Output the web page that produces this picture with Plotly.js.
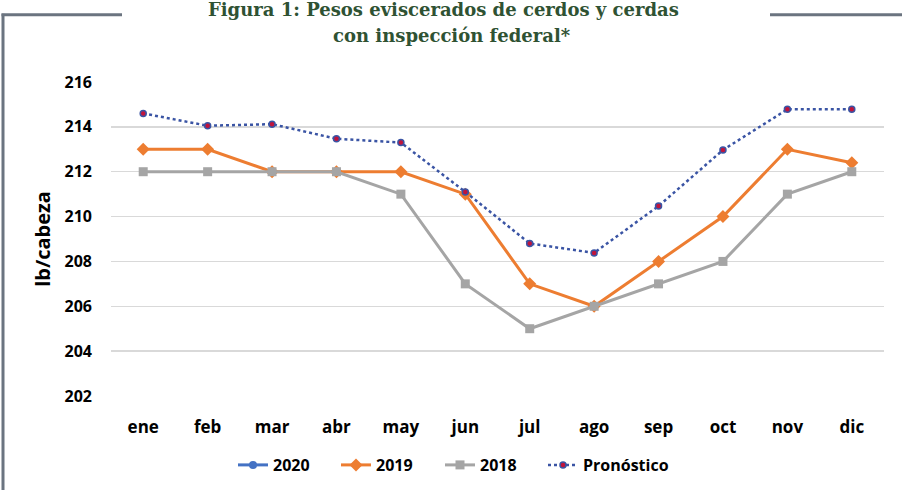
<!DOCTYPE html>
<html>
<head>
<meta charset="utf-8">
<script src="https://cdn.plot.ly/plotly-3.0.1.min.js"></script>
<style>
html,body{margin:0;padding:0;background:#fff;}
#chart{width:902px;height:490px;}
</style>
</head>
<body>
<div id="chart"></div>
<script>
const months = ['ene','feb','mar','abr','may','jun','jul','ago','sep','oct','nov','dic'];
const y2020 = [null,null,null,null,null,null,null,null,null,null,null,null];
const y2019 = [213,213,212,212,212,211,207,206,208,210,213,212.4];
const y2018 = [212,212,212,212,211,207,205,206,207,208,211,212];
const yPron = [214.6,214.05,214.12,213.47,213.3,211.1,208.8,208.38,210.47,212.97,214.78,214.78];
const yTicks = [202,204,206,208,210,212,214,216];

const FONT = '"Open Sans", "Liberation Sans", sans-serif';

const traces = [
  {x: months, y: y2020, name: '2020', type: 'scatter', mode: 'lines+markers', legend: 'legend',
   line: {color: '#4472C4', width: 3}, marker: {symbol: 'circle', size: 8, color: '#4472C4'}},
  {x: months, y: y2019, name: '2019', type: 'scatter', mode: 'lines+markers', legend: 'legend2',
   line: {color: '#ED7D31', width: 3}, marker: {symbol: 'diamond', size: 10, color: '#ED7D31'}},
  {x: months, y: y2018, name: '2018', type: 'scatter', mode: 'lines+markers', legend: 'legend3',
   line: {color: '#A5A5A5', width: 3}, marker: {symbol: 'square', size: 9, color: '#A5A5A5'}},
  {x: months, y: yPron, name: 'Pronóstico', type: 'scatter', mode: 'lines+markers', legend: 'legend4',
   line: {color: '#3A54A4', width: 2.5, dash: 'dot'},
   marker: {symbol: 'circle', size: 6, color: '#C0143C', line: {color: '#3A54A4', width: 1.5}}}
];

// plot area in px: left 111, right 884, top 81.5, bottom 396.5
const L = 111, R = 884, T = 81.5, B = 396.5;
const px2x = p => (p - L) / (R - L);
const px2y = p => (B - p) / (B - T);

const legendAt = px => ({orientation: 'h', xref: 'container', yref: 'container',
  x: px / 902, xanchor: 'left', y: 1 - 465 / 490, yanchor: 'middle', bgcolor: 'rgba(0,0,0,0)',
  font: {family: FONT, size: 16, color: '#000', weight: 'bold'}, itemwidth: 30});

const layout = {
  width: 902, height: 490,
  margin: {l: L, r: 902 - R, t: T, b: 490 - B, pad: 0, autoexpand: false},
  paper_bgcolor: '#ffffff', plot_bgcolor: '#ffffff',
  showlegend: true,
  legend: legendAt(233),
  legend2: legendAt(336),
  legend3: legendAt(440),
  legend4: legendAt(543),
  xaxis: {type: 'category', range: [-0.5, 11.5], showgrid: false, zeroline: false, showline: false, automargin: false,
          tickfont: {family: FONT, size: 17, color: '#000', weight: 'bold'},
          ticklabelstandoff: 19, ticks: ''},
  yaxis: {range: [202, 216], tickvals: yTicks, showgrid: true, gridcolor: '#D9D9D9', gridwidth: 1.5,
          zeroline: false, showline: false, ticks: '', automargin: false,
          tickfont: {family: FONT, size: 16, color: '#000', weight: 'bold'},
          ticklabelstandoff: 18,
          title: {text: 'lb/cabeza', standoff: 8, font: {family: FONT, size: 20, color: '#000', weight: 'bold'}}},
  annotations: [
    {text: 'Figura 1: Pesos eviscerados de cerdos y cerdas', xref: 'paper', yref: 'paper',
     x: px2x(443), y: px2y(9), xanchor: 'center', yanchor: 'middle', showarrow: false,
     font: {family: '"DejaVu Serif", serif', size: 18, color: '#2F5233', weight: 'bold'}},
    {text: 'con inspección federal*', xref: 'paper', yref: 'paper',
     x: px2x(452), y: px2y(35), xanchor: 'center', yanchor: 'middle', showarrow: false,
     font: {family: '"DejaVu Serif", serif', size: 18, color: '#2F5233', weight: 'bold'}}
  ],
  shapes: [
    {type: 'line', xref: 'paper', yref: 'paper', x0: px2x(3), x1: px2x(3), y0: px2y(13), y1: px2y(492),
     line: {color: '#6B7480', width: 3}},
    {type: 'line', xref: 'paper', yref: 'paper', x0: px2x(1.5), x1: px2x(122), y0: px2y(14), y1: px2y(14),
     line: {color: '#6B7480', width: 3}},
    {type: 'line', xref: 'paper', yref: 'paper', x0: px2x(770), x1: px2x(904), y0: px2y(14), y1: px2y(14),
     line: {color: '#6B7480', width: 3}}
  ]
};

Plotly.newPlot('chart', traces, layout, {displayModeBar: false, staticPlot: true});
</script>
</body>
</html>
